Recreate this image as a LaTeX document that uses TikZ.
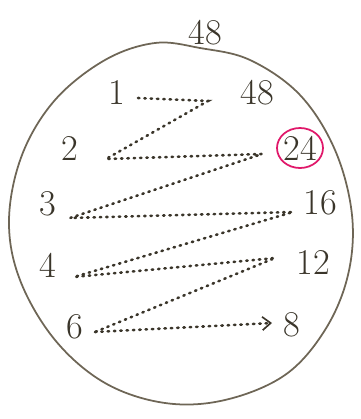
\documentclass[tikz,border=0pt]{standalone}
\usepackage{tikz}
\usepackage{xcolor}
\usetikzlibrary{arrows.meta,positioning,calc}
\definecolor{ink}{HTML}{3A352A}
\definecolor{rimgray}{HTML}{6E6656}
\definecolor{hotpink}{HTML}{E0186A}
\tikzset{
  numlabel/.style={text=ink,inner sep=1pt,font=\fontsize{31}{33}\selectfont},
  rim/.style={draw=rimgray,line width=1.5pt},
  dotline/.style={draw=ink,line width=2.2pt,line cap=round,
                  dash pattern=on 1.2pt off 4.2pt},
  ringmark/.style={draw=hotpink,line width=1.5pt},
  dotarr/.style={dotline,-{Straight Barb[length=2.5mm,width=4mm,line width=1.4pt]}}
}
\begin{document}
\begin{tikzpicture}[x=0.03cm,y=-0.03cm]
      \useasboundingbox (0,0) rectangle (360,419);
      % the outline round the factor pairs
      \draw[rim] plot[smooth cycle,tension=0.6] coordinates {
        (200,48) (250,60) (300,95) (335,150) (352,215) (348,275)
        (325,330) (285,375) (225,400) (165,403) (105,383) (55,340)
        (20,280) (9,220) (22,155) (55,100) (105,60) (155,43)};
      \node[numlabel] (top) at (205,33) {48};

      % left column
      \node[numlabel] (a1) at (117,92)  {1};
      \node[numlabel] (a2) at (70,148)  {2};
      \node[numlabel] (a3) at (48,204)  {3};
      \node[numlabel] (a4) at (48,265)  {4};
      \node[numlabel] (a6) at (75,327)  {6};

      % right column
      \node[numlabel] (b48) at (257,93)  {48};
      \node[numlabel] (b24) at (300,148) {24};
      \node[numlabel] (b16) at (320,203) {16};
      \node[numlabel] (b12) at (313,262) {12};
      \node[numlabel] (b8)  at (292,325) {8};
      \draw[ringmark] (b24.center) ellipse [x radius=23,y radius=20];

      % turning points of the zigzag
      \coordinate (s1) at (138,98);
      \coordinate (t1) at (208,101);
      \coordinate (t2) at (262,154);
      \coordinate (t3) at (293,212);
      \coordinate (t4) at (275,258);
      \coordinate (s2) at (106,159);
      \coordinate (s3) at (70,218);
      \coordinate (s4) at (74,277);
      \coordinate (s6) at (95,332);
      \coordinate (e8) at (272,323);

      \draw[dotline] (s1) -- (t1) -- (s2) -- (t2) -- (s3)
        -- (t3) -- (s4) -- (t4) -- (s6);
      \draw[dotarr] (s6) -- (e8);
    \end{tikzpicture}
\end{document}
